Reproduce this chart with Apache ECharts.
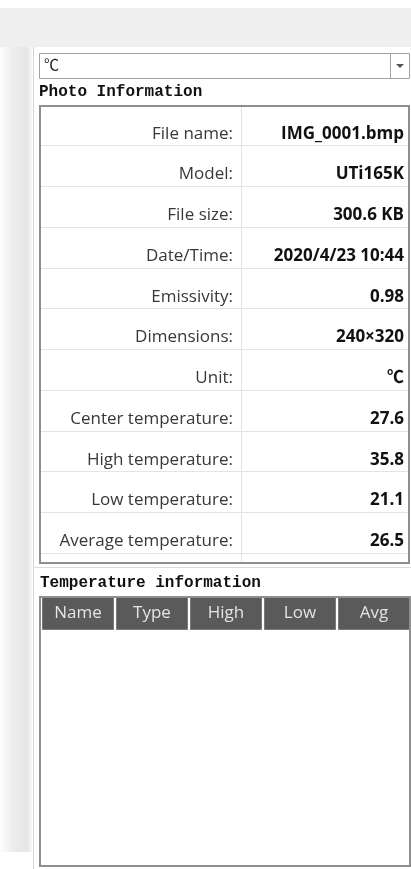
<!DOCTYPE html>
<html>
<head>
<meta charset="utf-8">
<script src="https://cdn.jsdelivr.net/npm/echarts@6/dist/echarts.min.js"></script>
<style>
  html, body { margin: 0; padding: 0; background: #fff; }
  #main { width: 411px; height: 869px; }
</style>
</head>
<body>
<div id="main"></div>
<script>
// 照片信息表：字段名和对应的值
const fields = ['File name:', 'Model:', 'File size:', 'Date/Time:', 'Emissivity:', 'Dimensions:',
  'Unit:', 'Center temperature:', 'High temperature:', 'Low temperature:', 'Average temperature:'];
const values = ['IMG_0001.bmp', 'UTi165K', '300.6 KB', '2020/4/23 10:44', '0.98', '240×320',
  '℃', '27.6', '35.8', '21.1', '26.5'];
// 温度信息表的表头
const tempColumns = ['Name', 'Type', 'High', 'Low', 'Avg'];
const headerFill = [1, 1, 1, 1, 1];
// 下拉框当前选项
const unitOption = '℃';

const sans = "'Open Sans', 'Noto Sans CJK SC', sans-serif";
const mono = "'Liberation Mono', 'DejaVu Sans Mono', monospace";

const chart = echarts.init(document.getElementById('main'));

const option = {
  backgroundColor: '#fff',
  animation: false,
  grid: [
    { left: 40, top: 105, width: 369, height: 448 },   // 照片信息
    { left: 41, top: 597, width: 370, height: 33 }     // 温度信息表头
  ],
  xAxis: [
    { type: 'value', gridIndex: 0, show: false, min: 0, max: 1 },
    { type: 'category', gridIndex: 1, data: tempColumns, show: false }
  ],
  yAxis: [
    {
      // 字段名列，轴线作为中间分隔线
      type: 'category', gridIndex: 0, data: fields, inverse: true,
      position: 'left', offset: -201,
      axisTick: { show: false },
      axisLine: { show: true, lineStyle: { color: '#e2e2e2', width: 1 } },
      axisLabel: {
        margin: 8, color: '#383838', fontSize: 17, fontFamily: sans,
        verticalAlign: 'top', lineHeight: 17
      },
      splitLine: { show: true, interval: 0, lineStyle: { color: '#e4e4e4', width: 1 } }
    },
    {
      // 值列，右对齐
      type: 'category', gridIndex: 0, data: values, inverse: true,
      position: 'right',
      axisTick: { show: false },
      axisLine: { show: false },
      axisLabel: {
        inside: true, margin: 5, color: '#111', fontSize: 17, fontWeight: 'bold',
        fontFamily: sans, verticalAlign: 'top', lineHeight: 17
      },
      splitLine: { show: false }
    },
    { type: 'value', gridIndex: 1, min: 0, max: 1, show: false }
  ],
  series: [
    {
      type: 'bar', xAxisIndex: 1, yAxisIndex: 2,
      data: headerFill, barWidth: 72,
      itemStyle: { color: '#5a5a5a', borderColor: '#7a7a7a', borderWidth: 1 },
      label: {
        show: true, position: 'inside', formatter: (p) => tempColumns[p.dataIndex],
        color: '#e4e4e4', fontSize: 17, fontFamily: sans
      },
      silent: true
    }
  ],
  graphic: [
    // 顶部灰色条
    { type: 'rect', z: -10, shape: { x: 0, y: 8, width: 411, height: 39 }, style: { fill: '#efefef' } },
    // 左侧渐变阴影
    {
      type: 'rect', z: -10, shape: { x: 0, y: 47, width: 32, height: 805 },
      style: {
        fill: new echarts.graphic.LinearGradient(0, 0, 1, 0, [
          { offset: 0, color: '#ffffff' },
          { offset: 0.4, color: '#ececec' },
          { offset: 0.85, color: '#e6e6e6' },
          { offset: 1, color: '#f8f8f8' }
        ])
      }
    },
    { type: 'line', z: -5, shape: { x1: 33.5, y1: 47, x2: 33.5, y2: 869 }, style: { stroke: '#d4d4d4', lineWidth: 1 } },
    // 下拉框
    { type: 'rect', shape: { x: 39.5, y: 53.5, width: 370, height: 25 }, style: { fill: '#fff', stroke: '#a3a3a3', lineWidth: 1 } },
    { type: 'line', shape: { x1: 390.5, y1: 53.5, x2: 390.5, y2: 78.5 }, style: { stroke: '#a3a3a3', lineWidth: 1 } },
    { type: 'polygon', shape: { points: [[396, 64], [404, 64], [400, 68]] }, style: { fill: '#555' } },
    { type: 'text', x: 44, y: 66, style: { text: unitOption, fontSize: 15, fontFamily: sans, fill: '#222', verticalAlign: 'middle' } },
    // 标题
    { type: 'text', x: 39, y: 92, style: { text: 'Photo Information', fontSize: 16, fontWeight: 'bold', fontFamily: mono, fill: '#111', verticalAlign: 'middle' } },
    // 照片信息外框
    { type: 'rect', z: 10, shape: { x: 40, y: 106, width: 369, height: 457 }, style: { fill: 'none', stroke: '#8f8f8f', lineWidth: 2 } },
    { type: 'line', shape: { x1: 241.5, y1: 553, x2: 241.5, y2: 562 }, style: { stroke: '#e2e2e2', lineWidth: 1 } },
    { type: 'line', shape: { x1: 34, y1: 567.5, x2: 411, y2: 567.5 }, style: { stroke: '#dcdcdc', lineWidth: 1 } },
    { type: 'text', x: 40, y: 583, style: { text: 'Temperature information', fontSize: 16, fontWeight: 'bold', fontFamily: mono, fill: '#111', verticalAlign: 'middle' } },
    // 温度信息外框
    { type: 'rect', z: 10, shape: { x: 40, y: 597, width: 370, height: 269 }, style: { fill: 'none', stroke: '#8f8f8f', lineWidth: 2 } }
  ]
};

chart.setOption(option);
</script>
</body>
</html>
